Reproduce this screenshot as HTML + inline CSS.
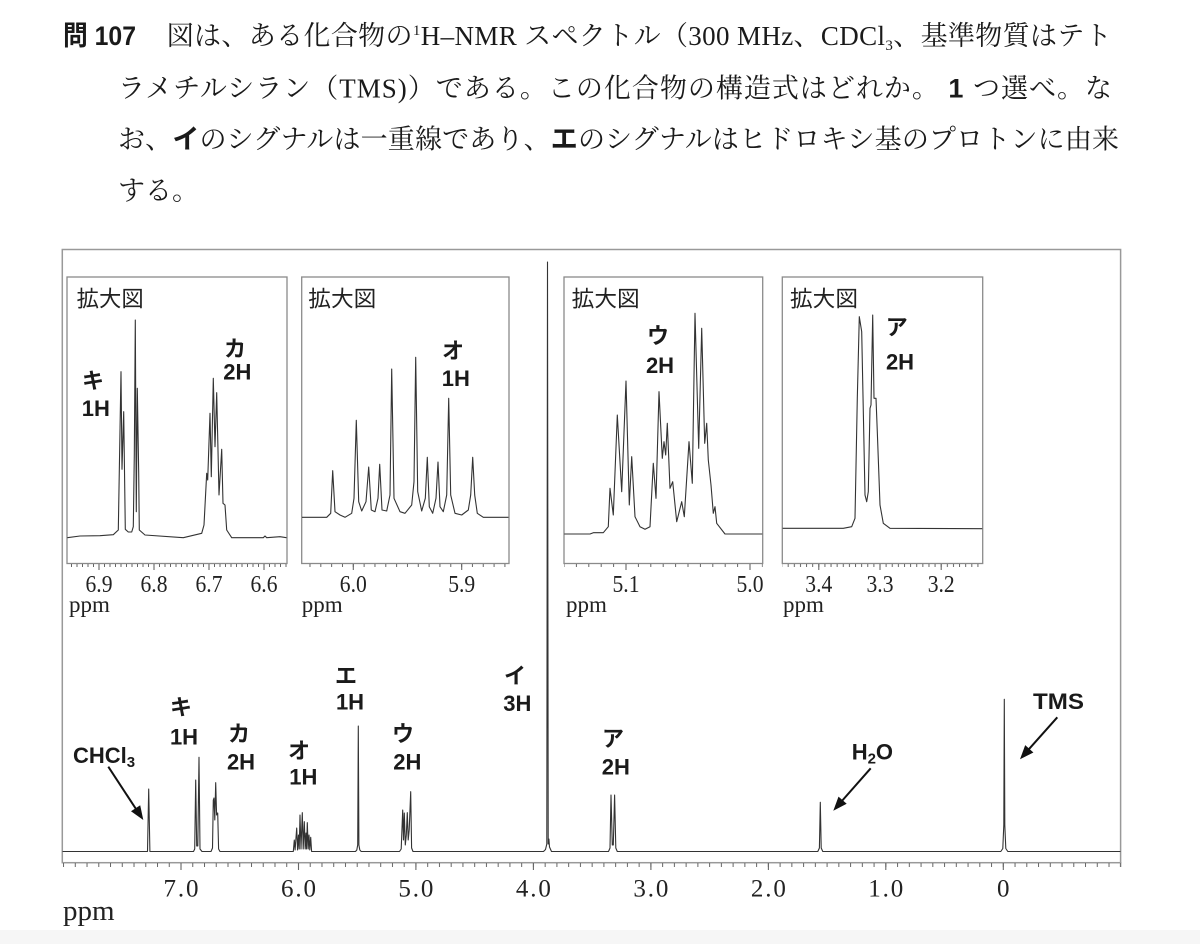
<!DOCTYPE html>
<html lang="ja">
<head>
<meta charset="utf-8">
<style>
  html,body{margin:0;padding:0;background:#fff;}
  svg{display:block;}
  .m{font-family:"Liberation Serif","Noto Serif CJK SC",serif;font-size:27px;fill:#1a1a1a;}
  .b{font-family:"Liberation Sans","Noto Sans CJK JP",sans-serif;font-weight:bold;}
  .lab{font-family:"Liberation Sans","Noto Sans CJK JP",sans-serif;font-weight:bold;font-size:22px;fill:#1a1a1a;}
  .zm{font-family:"Noto Sans CJK JP","Liberation Sans",sans-serif;font-size:22px;fill:#222;}
  .tk{font-family:"Liberation Serif",serif;font-size:25px;fill:#222;}
  .itk{font-family:"Liberation Serif",serif;font-size:24px;fill:#222;}
  .ppm{font-family:"Liberation Serif",serif;font-size:23px;fill:#222;}
  .sp{fill:none;stroke:#333;stroke-width:1.1;stroke-linejoin:round;}
  .box{fill:none;stroke:#8a8a8a;stroke-width:1.3;}
</style>
</head>
<body>
<svg width="1200" height="944" viewBox="0 0 1200 944" xmlns="http://www.w3.org/2000/svg">
  <defs>
    <pattern id="pm" patternUnits="userSpaceOnUse" x="1002.8" y="863" width="11.747" height="4"><rect x="0" y="0" width="1" height="4" fill="#666"/></pattern>
    <pattern id="p1" patternUnits="userSpaceOnUse" x="98.5" y="564" width="5.5" height="3"><rect x="0" y="0" width="1" height="3" fill="#666"/></pattern>
    <pattern id="p2" patternUnits="userSpaceOnUse" x="352.8" y="564" width="10.83" height="3"><rect x="0" y="0" width="1" height="3" fill="#666"/></pattern>
    <pattern id="p3" patternUnits="userSpaceOnUse" x="625.5" y="564" width="12.4" height="3"><rect x="0" y="0" width="1" height="3" fill="#666"/></pattern>
    <pattern id="p4" patternUnits="userSpaceOnUse" x="879.5" y="564" width="6.12" height="3"><rect x="0" y="0" width="1" height="3" fill="#666"/></pattern>
  </defs>

  <rect x="0" y="0" width="1200" height="944" fill="#fff"/>
  <rect x="0" y="930" width="1200" height="14" fill="#f6f6f6"/>

  <!-- Question text -->
  <text x="63" y="45" class="b" font-size="27" fill="#1a1a1a" textLength="73" lengthAdjust="spacingAndGlyphs">問 107</text>
  <text x="166.7" y="45" class="m" textLength="945" lengthAdjust="spacing">図は、ある化合物の<tspan font-size="15" dy="-10">1</tspan><tspan dy="10">H–NMR スペクトル（300 MHz、CDCl</tspan><tspan font-size="15" dy="5">3</tspan><tspan dy="-5">、基準物質はテト</tspan></text>
  <text x="118" y="97.5" class="m" textLength="994" lengthAdjust="spacing">ラメチルシラン（TMS)）である。この化合物の構造式はどれか。<tspan class="b"> 1 </tspan>つ選べ。な</text>
  <text x="118" y="148.5" class="m" textLength="1001" lengthAdjust="spacing">お、<tspan class="b">イ</tspan>のシグナルは一重線であり、<tspan class="b">エ</tspan>のシグナルはヒドロキシ基のプロトンに由来</text>
  <text x="118" y="200" class="m">する。</text>

  <!-- Main frame -->
  <rect x="62.3" y="249.5" width="1058.3" height="613.2" fill="none" stroke="#999" stroke-width="1.5"/>
  <line x1="1120.6" y1="862" x2="1120.6" y2="867" stroke="#999" stroke-width="1.5"/>

  <!-- Main ticks -->
  <rect x="62.5" y="863" width="1058.5" height="4" fill="url(#pm)"/>
  <g stroke="#666" stroke-width="1.1">
    <line x1="181" y1="863" x2="181" y2="870"/>
    <line x1="298.5" y1="863" x2="298.5" y2="870"/>
    <line x1="415.9" y1="863" x2="415.9" y2="870"/>
    <line x1="533.4" y1="863" x2="533.4" y2="870"/>
    <line x1="650.9" y1="863" x2="650.9" y2="870"/>
    <line x1="768.4" y1="863" x2="768.4" y2="870"/>
    <line x1="885.8" y1="863" x2="885.8" y2="870"/>
    <line x1="1003.3" y1="863" x2="1003.3" y2="870"/>
  </g>
  <g class="tk" text-anchor="middle">
    <text x="181" y="896.5" textLength="35" lengthAdjust="spacing">7.0</text>
    <text x="298.5" y="896.5" textLength="35" lengthAdjust="spacing">6.0</text>
    <text x="415.9" y="896.5" textLength="35" lengthAdjust="spacing">5.0</text>
    <text x="533.4" y="896.5" textLength="35" lengthAdjust="spacing">4.0</text>
    <text x="650.9" y="896.5" textLength="35" lengthAdjust="spacing">3.0</text>
    <text x="768.4" y="896.5" textLength="35" lengthAdjust="spacing">2.0</text>
    <text x="885.8" y="896.5" textLength="35" lengthAdjust="spacing">1.0</text>
    <text x="1003.3" y="896.5">0</text>
  </g>
  <text x="63" y="920" font-family="'Liberation Serif',serif" font-size="29" fill="#222">ppm</text>

  <!-- Main spectrum -->
  <path class="sp" d="M62.5,851.5 L147.5,851.5 L148.7,789 L149.9,851.5 L193.5,851.5 L194.7,849 L195.7,780 L196.7,846 L197.8,846 L199,757.3 L200,849 L202,851.5 L211,851.5 L212.5,848 L213.3,800 L214,798 L214.8,820 L215.7,782.7 L216.6,815 L217.7,813 L218.6,849 L220,851.5 L293.3,851.5 L294.3,840 L295.1,850 L296.7,828 L297.6,850 L298.5,835 L299.2,849 L300,815 L301,849 L302.3,812.7 L303.2,849 L304.3,821.7 L305.2,849 L306,833 L306.6,849 L307.3,822.7 L308.2,849 L309,835 L309.8,850 L310.7,837.3 L311.6,851.5 L355.5,851.5 L356.8,850 L357.7,845 L358.3,726 L358.9,845 L359.8,850 L361.2,851.5 L399.5,851.5 L401.2,849 L402.7,810 L403.5,840 L404.3,813 L405.3,845 L406.3,835 L407.3,812.7 L408.2,840 L409.2,830 L410.7,791.7 L411.6,848 L413,851.5 L543.5,851.5 L545.5,849.5 L546.8,844 L547.5,262 L548.2,844 L548.9,839 L549.5,847 L551.5,851.5 L608.5,851.5 L610,848 L611,795 L612.3,845 L613.3,845 L614.6,795 L615.8,848 L617.3,851.5 L817.8,851.5 L819.4,848 L820.3,802.3 L821.2,848 L822.8,851.5 L1000.8,851.5 L1002.8,848.5 L1003.8,825 L1004.3,699.3 L1004.8,825 L1005.8,848.5 L1007.8,851.5 L1120.5,851.5"/>

  <!-- Main labels -->
  <text x="73" y="763" class="lab">CHCl<tspan font-size="15" dy="4">3</tspan></text>
  <g class="lab" text-anchor="middle">
    <text x="181" y="715">キ</text>
    <text x="184" y="744.6">1H</text>
    <text x="239" y="741.4">カ</text>
    <text x="241" y="769.6">2H</text>
    <text x="299" y="758.4">オ</text>
    <text x="303.3" y="784.6">1H</text>
    <text x="346" y="683.4">エ</text>
    <text x="350" y="709.6">1H</text>
    <text x="403" y="741.4">ウ</text>
    <text x="407.3" y="769.6">2H</text>
    <text x="515" y="683.4">イ</text>
    <text x="517.3" y="711.2">3H</text>
    <text x="613" y="746.4">ア</text>
    <text x="615.8" y="774.6">2H</text>
  </g>
  <text x="851.7" y="759.6" class="lab">H<tspan font-size="15" dy="4">2</tspan><tspan dy="-4">O</tspan></text>
  <text x="1033" y="709" class="lab" textLength="51" lengthAdjust="spacingAndGlyphs">TMS</text>

  <!-- Arrows -->
  <g stroke="#111" stroke-width="2" fill="#111">
    <line x1="108.3" y1="766.7" x2="136" y2="809"/>
    <polygon stroke="none" points="143.3,820 131.0,811.3 140.2,805.3"/>
    <line x1="870.7" y1="768.3" x2="842.2" y2="800.6"/>
    <polygon stroke="none" points="833.3,810.7 838.5,796.6 846.7,803.8"/>
    <line x1="1057.3" y1="717.3" x2="1028.9" y2="749.2"/>
    <polygon stroke="none" points="1020,759.3 1025.2,745.1 1033.4,752.5"/>
  </g>

  <!-- ===== Inset 1 ===== -->
  <rect x="67" y="277" width="220" height="286.5" fill="#fff" class="box"/>
  <text x="76.7" y="306.7" class="zm" textLength="67" lengthAdjust="spacingAndGlyphs">拡大図</text>
  <path class="sp" d="M67.3,537.7 L80,536 L100,535.7 L113.3,534.7 L118.3,530 L121,371.7 L122,469.3 L123.7,411.7 L125.3,529.3 L128.3,532 L131.7,532 L133.3,526.7 L134.3,455 L135.3,320 L136.3,511.7 L137.3,388.3 L138.7,473.3 L139.3,530 L145,535 L183.3,537.7 L201.7,533.3 L204,525 L206.7,473.3 L207.7,480 L210,413.3 L211.3,476.7 L213.3,378.3 L215,446.7 L216.7,392.7 L219,495 L221.7,449.3 L223,503.3 L225,505 L226.7,530 L231.7,537.7 L263.3,537.7 L265,536 L266.7,537.7 L280,536.7 L286.5,537.7"/>
  <rect x="67" y="564" width="220" height="3" fill="url(#p1)"/>
  <g stroke="#666" stroke-width="1.1">
    <line x1="99" y1="564" x2="99" y2="570"/><line x1="154" y1="564" x2="154" y2="570"/>
    <line x1="209" y1="564" x2="209" y2="570"/><line x1="264" y1="564" x2="264" y2="570"/>
  </g>
  <g class="itk" text-anchor="middle">
    <text x="99" y="592" textLength="27" lengthAdjust="spacingAndGlyphs">6.9</text>
    <text x="154" y="592" textLength="27" lengthAdjust="spacingAndGlyphs">6.8</text>
    <text x="209" y="592" textLength="27" lengthAdjust="spacingAndGlyphs">6.7</text>
    <text x="264" y="592" textLength="27" lengthAdjust="spacingAndGlyphs">6.6</text>
  </g>
  <text x="69" y="612" class="ppm">ppm</text>
  <g class="lab" text-anchor="middle">
    <text x="93" y="388.4">キ</text>
    <text x="95.8" y="416.2">1H</text>
    <text x="235" y="356.7">カ</text>
    <text x="237.3" y="379.6">2H</text>
  </g>

  <!-- ===== Inset 2 ===== -->
  <rect x="301.7" y="277" width="207.3" height="286.5" fill="#fff" class="box"/>
  <text x="308.3" y="306.7" class="zm" textLength="68" lengthAdjust="spacingAndGlyphs">拡大図</text>
  <path class="sp" d="M302,517.3 L326.7,517.3 L330.7,513.3 L332.7,470.7 L335,511.7 L340,515 L345,517.3 L351.7,513.3 L354,498.3 L356.3,420.3 L358.7,501.7 L361.7,511 L366,501.7 L368.7,467 L371.3,510 L375,511.7 L378,498.3 L379.7,464.3 L382,510 L386.7,511 L390,495 L391.7,369 L394,498.3 L400,511.7 L405,513.3 L411.7,505 L414,481.7 L415.7,357.3 L417.7,491.7 L421.7,511 L425.3,498.3 L427.3,457.3 L429.3,506.7 L432.7,513.3 L436,498.3 L438,462 L440,506.7 L443.3,511.7 L446.7,495 L448.7,398.3 L450.7,495 L455,513.3 L461.7,515 L468.3,510 L470.7,495 L472.7,457.3 L474.7,495 L477.3,513.3 L483.3,517.3 L508.5,517.3"/>
  <rect x="301.7" y="564" width="207.3" height="3" fill="url(#p2)"/>
  <g stroke="#666" stroke-width="1.1">
    <line x1="353.3" y1="564" x2="353.3" y2="570"/><line x1="461.7" y1="564" x2="461.7" y2="570"/>
  </g>
  <g class="itk" text-anchor="middle">
    <text x="353.3" y="592" textLength="27" lengthAdjust="spacingAndGlyphs">6.0</text>
    <text x="461.7" y="592" textLength="27" lengthAdjust="spacingAndGlyphs">5.9</text>
  </g>
  <text x="301.7" y="612" class="ppm">ppm</text>
  <g class="lab" text-anchor="middle">
    <text x="453" y="358.4">オ</text>
    <text x="455.8" y="386.2">1H</text>
  </g>

  <!-- ===== Inset 3 ===== -->
  <rect x="564" y="277" width="198.7" height="286.5" fill="#fff" class="box"/>
  <text x="571.7" y="306.7" class="zm" textLength="68" lengthAdjust="spacingAndGlyphs">拡大図</text>
  <path class="sp" d="M564.3,534 L590,534 L593.3,532.7 L603.3,532.7 L608.3,526.7 L610,488.3 L613.3,515 L617.3,415 L621.7,491.7 L626,381 L629.3,505 L631.7,456.7 L635,516.7 L640,526.7 L645,529.3 L650,526.7 L653.3,463.3 L656,498.3 L659,391.7 L662.3,458.3 L664,441.7 L665.7,455 L667.3,423.3 L670,488.3 L672.7,481.7 L676.7,521.7 L681.7,501.7 L684.3,516.7 L689,441.7 L692.3,483.3 L695,313.3 L698.7,448.3 L701.7,328.3 L704.7,443.3 L706.7,423.3 L708.3,460 L711,485 L713.3,513.3 L715,506.7 L716.7,523.3 L725,534 L762.3,534"/>
  <rect x="564" y="564" width="198.7" height="3" fill="url(#p3)"/>
  <g stroke="#666" stroke-width="1.1">
    <line x1="626" y1="564" x2="626" y2="570"/><line x1="750" y1="564" x2="750" y2="570"/>
  </g>
  <g class="itk" text-anchor="middle">
    <text x="626" y="592" textLength="27" lengthAdjust="spacingAndGlyphs">5.1</text>
    <text x="750" y="592" textLength="27" lengthAdjust="spacingAndGlyphs">5.0</text>
  </g>
  <text x="566" y="612" class="ppm">ppm</text>
  <g class="lab" text-anchor="middle">
    <text x="658" y="343.4">ウ</text>
    <text x="660" y="372.9">2H</text>
  </g>

  <!-- ===== Inset 4 ===== -->
  <rect x="782.3" y="277" width="200.4" height="286.5" fill="#fff" class="box"/>
  <text x="790" y="306.7" class="zm" textLength="68" lengthAdjust="spacingAndGlyphs">拡大図</text>
  <path class="sp" d="M782.6,528.3 L843.3,528.3 L851.7,526.7 L855,518.3 L857.3,398.3 L859.3,316.7 L861.7,331.7 L865,495 L866.7,501.7 L868.3,491.7 L870,408.3 L871,405 L872.7,315 L874,398.3 L876,398.3 L877.3,431.7 L880,505 L883.3,523.3 L890,528.3 L982.3,528.7"/>
  <rect x="782.3" y="564" width="200.4" height="3" fill="url(#p4)"/>
  <g stroke="#666" stroke-width="1.1">
    <line x1="818.8" y1="564" x2="818.8" y2="570"/><line x1="880" y1="564" x2="880" y2="570"/><line x1="941.2" y1="564" x2="941.2" y2="570"/>
  </g>
  <g class="itk" text-anchor="middle">
    <text x="818.8" y="592" textLength="27" lengthAdjust="spacingAndGlyphs">3.4</text>
    <text x="880" y="592" textLength="27" lengthAdjust="spacingAndGlyphs">3.3</text>
    <text x="941.2" y="592" textLength="27" lengthAdjust="spacingAndGlyphs">3.2</text>
  </g>
  <text x="783" y="612" class="ppm">ppm</text>
  <g class="lab" text-anchor="middle">
    <text x="896.7" y="335.1">ア</text>
    <text x="900" y="369.6">2H</text>
  </g>
</svg>
</body>
</html>
